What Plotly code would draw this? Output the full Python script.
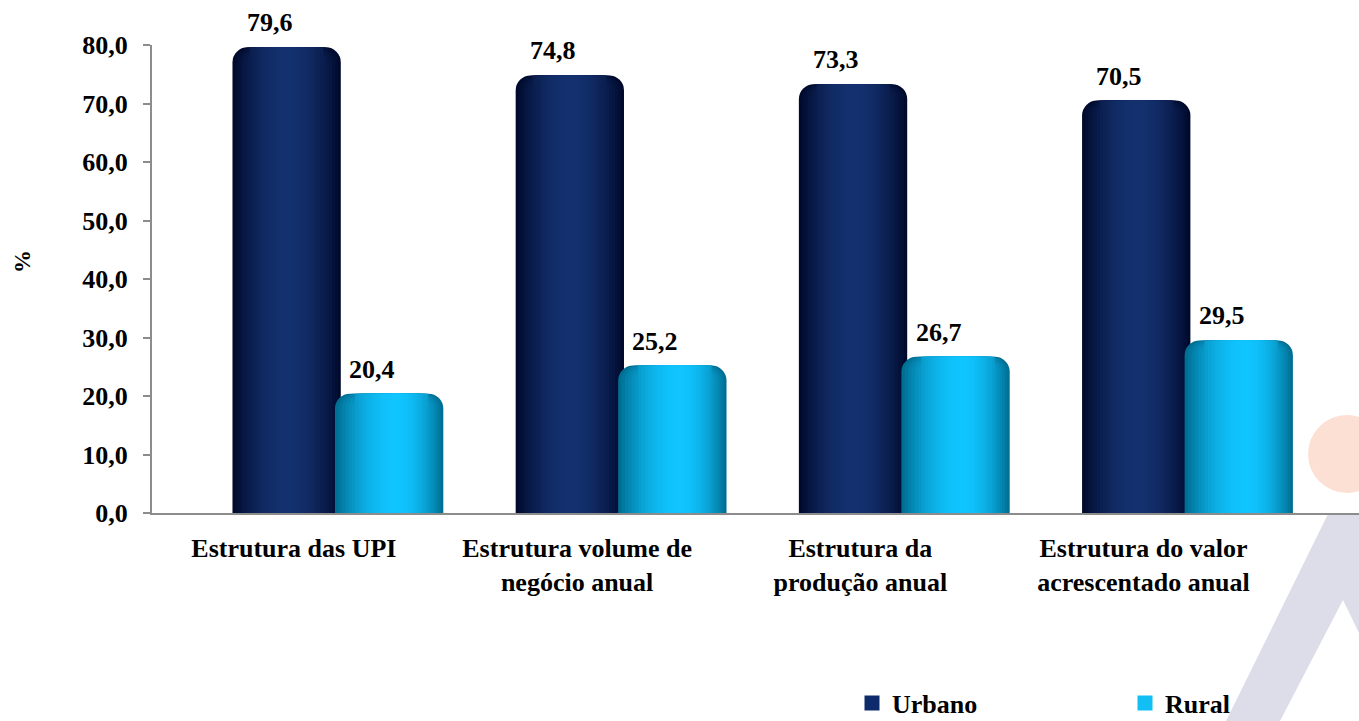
import plotly.graph_objects as go

# ---------------- data ----------------
categories = [
    "Estrutura das UPI",
    "Estrutura volume de<br>negócio anual",
    "Estrutura da<br>produção anual",
    "Estrutura do valor<br>acrescentado anual",
]
series_names = ["Urbano", "Rural"]
urbano = [79.6, 74.8, 73.3, 70.5]
rural = [20.4, 25.2, 26.7, 29.5]
y_tick_values = [0, 10, 20, 30, 40, 50, 60, 70, 80]
y_axis_title = "%"

# ---------------- style / layout constants ----------------
W, H = 1359, 721
L, R, T, B = 152, 0, 45, 208
PW, PH = W - L - R, H - T - B
FONT = "Liberation Serif, Times New Roman, serif"
FS = 26
AXIS_GREY = "#8c8c8c"

x_range = [-0.6564, 3.6056]          # category units
unit_px = PW / (x_range[1] - x_range[0])
bar_w = 0.3825
offsets = [-0.181, 0.181]
label_dx = -44 / unit_px             # category label offset (Excel-like)

# cylinder shading: edge colour -> highlight colour
shade = {
    "Urbano": ((0, 10, 44), (20, 49, 111)),
    "Rural": ((0, 111, 148), (16, 197, 255)),
}
legend_color = {"Urbano": "#0d2a6b", "Rural": "#12bff4"}
highlight_shift = {"Urbano": 0.0, "Rural": 0.07}
N_LAYERS = 18


def mix(c0, c1, t):
    return "rgb(%d,%d,%d)" % tuple(round(a + (b - a) * t) for a, b in zip(c0, c1))


def px2paper_x(px):
    return (px - L) / PW


def px2paper_y(py):
    return (H - B - py) / PH


fig = go.Figure()
series_values = [urbano, rural]
idx = list(range(len(categories)))

for s, (name, vals) in enumerate(zip(series_names, series_values)):
    c_edge, c_hi = shade[name]
    for k in range(N_LAYERS):
        frac = 1.0 - k * (0.92 / (N_LAYERS - 1))
        t = 1 - frac ** 2
        shift = highlight_shift[name] * bar_w * (1 - frac)
        fig.add_trace(go.Bar(
            x=[i + offsets[s] + shift for i in idx],
            y=vals,
            width=bar_w * frac,
            marker=dict(color=mix(c_edge, c_hi, t), line=dict(width=0),
                        cornerradius=15 if k < 6 else 0),
            name=name,
            legendgroup=name,
            showlegend=False,
            hoverinfo="skip",
        ))

for name in series_names:
    # legend entry (square key, no visible mark in the plot)
    fig.add_trace(go.Scatter(
        x=[None], y=[None], name=name, legendgroup=name, mode="markers",
        marker=dict(symbol="square", size=15, color=legend_color[name],
                    line=dict(width=0)),
        showlegend=True, hoverinfo="skip",
    ))

annotations = []
for s, vals in enumerate(series_values):
    for i, v in zip(idx, vals):
        annotations.append(dict(
            x=i + offsets[s], y=v, xref="x", yref="y",
            text=f"{v:.1f}".replace(".", ","),
            showarrow=False, xanchor="center", yanchor="bottom",
            xshift=-17, yshift=8,
            font=dict(family=FONT, size=FS, color="black", weight="bold"),
        ))

annotations.append(dict(
    x=px2paper_x(22), y=px2paper_y(262), xref="paper", yref="paper",
    xanchor="center", yanchor="middle",
    text=y_axis_title, showarrow=False, textangle=-90,
    font=dict(family=FONT, size=23, color="black", weight="bold"),
))

# watermark decoration
lam = [(1226, 721), (1328, 514), (1359, 514), (1359, 633), (1343, 600), (1280, 721)]
path = "M " + " L ".join(f"{px2paper_x(a):.5f},{px2paper_y(b):.5f}" for a, b in lam) + " Z"
shapes = [
    dict(type="circle", xref="paper", yref="paper",
         x0=px2paper_x(1308), x1=px2paper_x(1386),
         y0=px2paper_y(493), y1=px2paper_y(415),
         fillcolor="#fde0d4", line=dict(width=0), layer="below"),
    dict(type="path", xref="paper", yref="paper", path=path,
         fillcolor="#dddde9", line=dict(width=0), layer="below"),
]

fig.update_layout(
    width=W, height=H,
    margin=dict(l=L, r=R, t=T, b=B, autoexpand=False),
    paper_bgcolor="white",
    plot_bgcolor="rgba(0,0,0,0)",
    barmode="overlay",
    font=dict(family=FONT, size=FS, color="black", weight="bold"),
    showlegend=True,
    legend=dict(
        orientation="h", x=px2paper_x(852), y=px2paper_y(703),
        xanchor="left", yanchor="middle",
        entrywidth=228, entrywidthmode="pixels",
        font=dict(family=FONT, size=FS, color="black", weight="bold"),
        bgcolor="rgba(0,0,0,0)", itemclick=False, itemdoubleclick=False,
    ),
    xaxis=dict(
        range=x_range, tickvals=[i + label_dx for i in idx], ticktext=categories,
        showline=True, linecolor=AXIS_GREY, linewidth=2, ticks="",
        showgrid=False, zeroline=False, ticklabelstandoff=11,
        tickfont=dict(family=FONT, size=FS, color="black", weight="bold"),
        fixedrange=True,
    ),
    yaxis=dict(
        range=[0, 80], tickvals=y_tick_values,
        ticktext=[f"{v:.1f}".replace(".", ",") for v in y_tick_values],
        showline=True, linecolor=AXIS_GREY, linewidth=2,
        ticks="outside", ticklen=7, tickwidth=2, tickcolor=AXIS_GREY,
        showgrid=False, zeroline=False, ticklabelstandoff=10,
        tickfont=dict(family=FONT, size=FS, color="black", weight="bold"),
        fixedrange=True,
    ),
    annotations=annotations,
    shapes=shapes,
)

fig.write_html("out.html", config={"displayModeBar": False},
               post_script="document.body.style.margin='0';")
